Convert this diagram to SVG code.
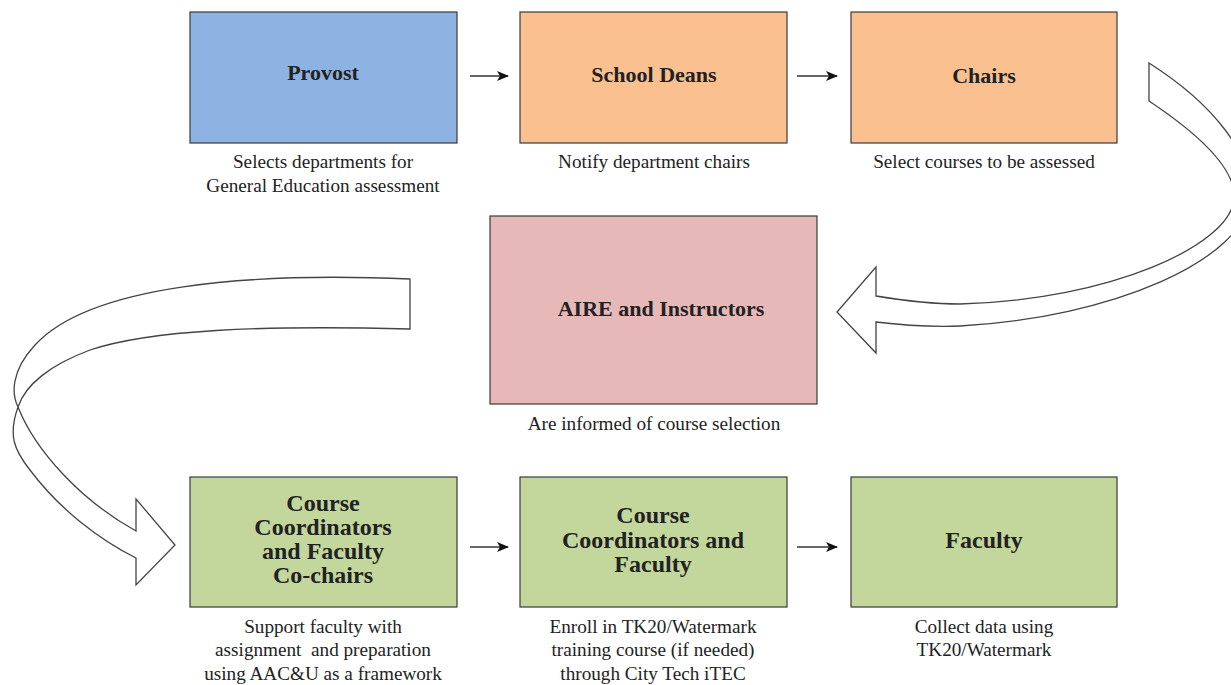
<svg xmlns="http://www.w3.org/2000/svg" width="1231" height="685" viewBox="0 0 1231 685">
<defs>
<marker id="ah" markerWidth="12" markerHeight="10" refX="11" refY="5" orient="auto" markerUnits="userSpaceOnUse">
<path d="M0,0 L12,5 L0,10 L3,5 Z" fill="#111"/>
</marker>
</defs>
<style>
.box{stroke:#3a3a3a;stroke-width:1.2}
.blue{fill:#8DB3E2}
.orange{fill:#FAC090}
.pink{fill:#E6B9B8}
.green{fill:#C3D69B}
.t{font-family:"Liberation Serif","Times New Roman",serif;font-weight:bold;fill:#222;text-anchor:middle}
.t1{font-size:22px}
.t2{font-size:24px}
.c{font-family:"Liberation Serif","Times New Roman",serif;font-size:19.2px;fill:#222;text-anchor:middle;white-space:pre}
.ln{stroke:#333;stroke-width:1.4;fill:none}
.big{fill:#fff;stroke:#444;stroke-width:1.3;stroke-linejoin:miter}
</style>
<rect width="1231" height="685" fill="#fff"/>
<g id="connectors">
<line class="ln" x1="470" y1="76" x2="508" y2="76" marker-end="url(#ah)"/>
<line class="ln" x1="797" y1="76" x2="837" y2="76" marker-end="url(#ah)"/>
<line class="ln" x1="470" y1="547" x2="508" y2="547" marker-end="url(#ah)"/>
<line class="ln" x1="797" y1="547" x2="837" y2="547" marker-end="url(#ah)"/>
<path class="big" d="M1149,63 C1215,105 1252,155 1250,195 C1248,260 1110,318 960,326 C930,327 900,325 876,322 L876,353 L837,312 L876,267 L876,296 C900,300 930,304 960,304 C1110,300 1232,245 1234,198 C1236,170 1200,135 1149,101 Z"/>
<path class="big" d="M410,279 C250,272 90,285 35,345 C10,372 12,395 18,407 C35,450 80,500 136,531 L136,499 L175,545 L136,585 L136,558 C100,540 60,510 30,470 C14,450 8,435 18,407 C25,385 50,365 90,350 C150,330 260,325 410,329 Z"/>
</g>
<g id="provost">
<rect class="box blue" x="190" y="12" width="267" height="131"/>
<text class="t t1" x="323" y="80">Provost</text>
<text class="c" x="323" y="168">Selects departments for</text>
<text class="c" x="323" y="192">General Education assessment</text>
</g>
<g id="deans">
<rect class="box orange" x="520" y="12" width="267" height="131"/>
<text class="t t1" x="654" y="82">School Deans</text>
<text class="c" x="654" y="168">Notify department chairs</text>
</g>
<g id="chairs">
<rect class="box orange" x="851" y="12" width="266" height="131"/>
<text class="t t1" x="984" y="83">Chairs</text>
<text class="c" x="984" y="168">Select courses to be assessed</text>
</g>
<g id="aire">
<rect class="box pink" x="490" y="216" width="327" height="188"/>
<text class="t t1" x="661" y="316">AIRE and Instructors</text>
<text class="c" x="654" y="430">Are informed of course selection</text>
</g>
<g id="cochairs">
<rect class="box green" x="190" y="477" width="267" height="130"/>
<text class="t t2" x="323" y="511">Course</text>
<text class="t t2" x="323" y="535">Coordinators</text>
<text class="t t2" x="323" y="559">and Faculty</text>
<text class="t t2" x="323" y="583">Co-chairs</text>
<text class="c" x="323" y="633">Support faculty with</text>
<text class="c" x="323" y="656">assignment  and preparation</text>
<text class="c" x="323" y="680">using AAC&amp;U as a framework</text>
</g>
<g id="coordfaculty">
<rect class="box green" x="520" y="477" width="267" height="130"/>
<text class="t t2" x="653" y="523">Course</text>
<text class="t t2" x="653" y="548">Coordinators and</text>
<text class="t t2" x="653" y="572">Faculty</text>
<text class="c" x="653" y="633">Enroll in TK20/Watermark</text>
<text class="c" x="653" y="656">training course (if needed)</text>
<text class="c" x="653" y="680">through City Tech iTEC</text>
</g>
<g id="faculty">
<rect class="box green" x="851" y="477" width="266" height="130"/>
<text class="t t2" x="984" y="548">Faculty</text>
<text class="c" x="984" y="633">Collect data using</text>
<text class="c" x="984" y="656">TK20/Watermark</text>
</g>
</svg>
